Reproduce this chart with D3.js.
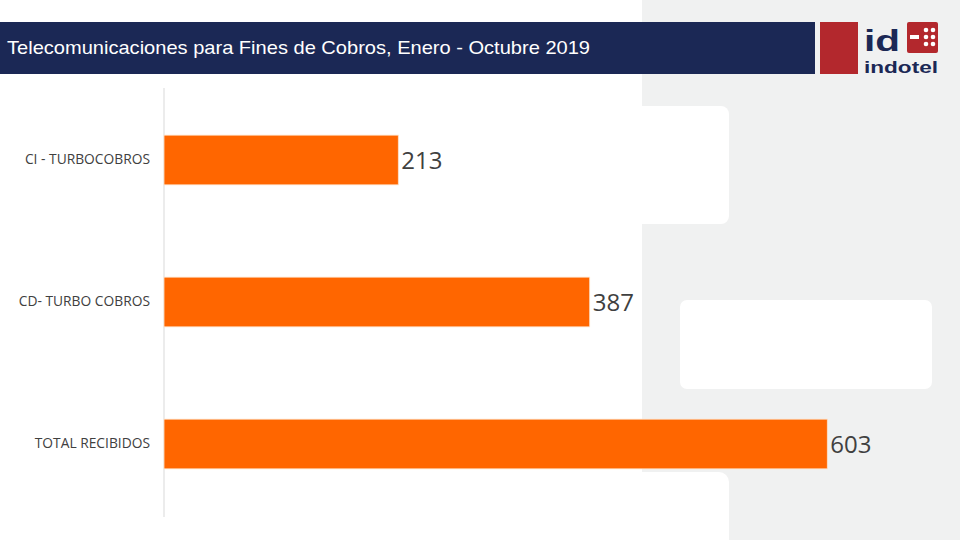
<!DOCTYPE html>
<html><head><meta charset="utf-8">
<script src="https://cdn.jsdelivr.net/npm/d3@7"></script>
<style>body{margin:0;background:#fff;}svg{display:block;}</style>
</head><body>
<svg id="c" width="960" height="540"></svg>
<script>
const categories = ["CI - TURBOCOBROS", "CD- TURBO COBROS", "TOTAL RECIBIDOS"];
const values = [213, 387, 603];
const title = "Telecomunicaciones para Fines de Cobros, Enero - Octubre 2019";

const svg = d3.select("#c");
// background decoration
const bg = svg.append("g");
bg.append("rect").attr("x",642).attr("y",0).attr("width",318).attr("height",540).attr("fill","#f0f1f1");
bg.append("rect").attr("x",600).attr("y",106).attr("width",129).attr("height",118).attr("rx",8).attr("fill","#fff");
bg.append("rect").attr("x",600).attr("y",472).attr("width",129).attr("height",80).attr("rx",10).attr("fill","#fff");
bg.append("rect").attr("x",600).attr("y",0).attr("width",42).attr("height",540).attr("fill","#fff");
bg.append("rect").attr("x",680).attr("y",300).attr("width",252).attr("height",89).attr("rx",7).attr("fill","#fff");

// header
svg.append("rect").attr("x",0).attr("y",22).attr("width",815).attr("height",52).attr("fill","#1b2855");
svg.append("rect").attr("x",820).attr("y",22).attr("width",38).attr("height",52).attr("fill","#b3282d");
svg.append("text").attr("x",7).attr("y",54).attr("fill","#fff")
  .attr("font-family","Liberation Sans, Arial, sans-serif").attr("font-size",19)
  .attr("textLength",583).attr("lengthAdjust","spacingAndGlyphs").text(title);
// logo
const logo = svg.append("g");
logo.append("text").attr("x",864).attr("y",51).attr("fill","#1b2855").attr("font-family","Liberation Sans, Arial")
  .attr("font-weight","bold").attr("font-size",30).attr("textLength",36).attr("lengthAdjust","spacingAndGlyphs").text("id");
logo.append("rect").attr("x",907).attr("y",22).attr("width",31).attr("height",31).attr("rx",2).attr("fill","#b3282d");
logo.append("rect").attr("x",910).attr("y",35).attr("width",9).attr("height",4).attr("fill","#fff");
[[926,30],[933,30],[926,37],[933,37],[926,44],[933,44]].forEach(p=>logo.append("circle").attr("cx",p[0]).attr("cy",p[1]).attr("r",2.3).attr("fill","#fff"));
logo.append("text").attr("x",864).attr("y",73).attr("fill","#1b2855").attr("font-family","Liberation Sans, Arial")
  .attr("font-weight","bold").attr("font-size",17).attr("textLength",74).attr("lengthAdjust","spacingAndGlyphs").text("indotel");

// chart
const x = d3.scaleLinear().domain([0, 700]).range([164, 934]);
const y = d3.scaleBand().domain(categories).range([89, 515]).paddingInner(0.65).paddingOuter(0.325);

svg.append("line").attr("x1",164).attr("x2",164).attr("y1",88).attr("y2",517).attr("stroke","#d9d9d9").attr("stroke-width",1);

svg.selectAll("rect.bar").data(values).enter().append("rect").attr("class","bar")
  .attr("x", x(0)).attr("y",(d,i)=>y(categories[i])).attr("width",d=>x(d)-x(0)).attr("height",y.bandwidth())
  .attr("fill","#ff6600").attr("stroke","#fde3cc").attr("stroke-width",0.8);

svg.selectAll("text.val").data(values).enter().append("text").attr("class","val")
  .attr("x",d=>x(d)+3).attr("y",(d,i)=>y(categories[i])+y.bandwidth()/2+9)
  .attr("fill","#404040").attr("font-family","Open Sans, sans-serif").attr("font-size",24).text(d=>d);

const yAxis = d3.axisLeft(y).tickSize(0).tickPadding(14);
const ag = svg.append("g").attr("transform","translate(164,0)").call(yAxis);
ag.select(".domain").remove();
ag.selectAll("text").attr("fill","#404040").attr("font-family","Open Sans, sans-serif").attr("font-size",13.8);
</script>
</body></html>
